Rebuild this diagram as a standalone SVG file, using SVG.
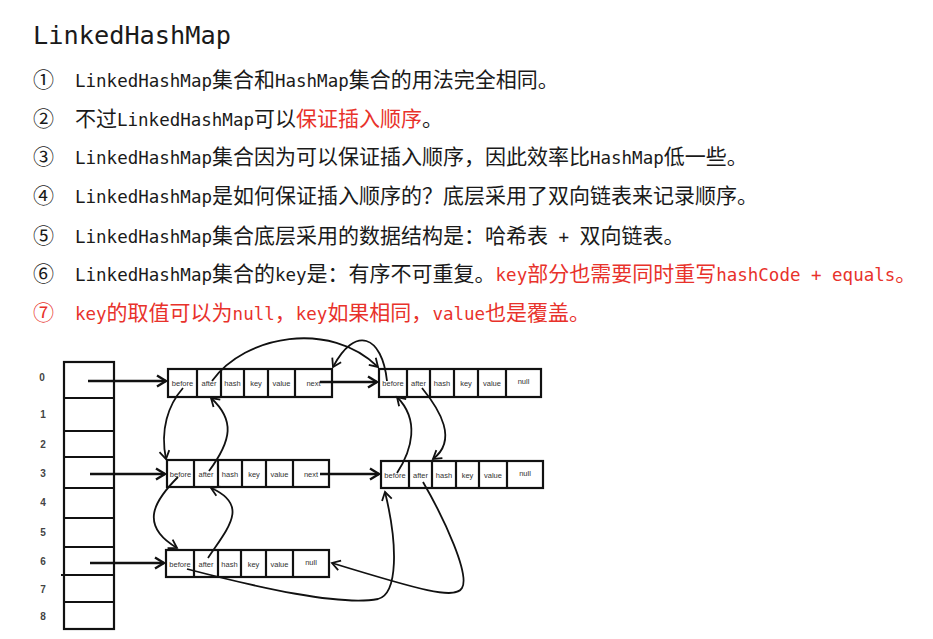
<svg xmlns="http://www.w3.org/2000/svg" width="933" height="639" viewBox="0 0 933 639">
<defs>
<style>
.t{white-space:pre;fill:#1a1a1a}
.cn{font-family:"Noto Sans CJK SC","Noto Sans CJK JP",sans-serif;font-size:21px}
.en{font-family:"DejaVu Sans Mono","Liberation Mono",monospace;font-size:17.5px}
.red{fill:#e8322b}
.box{fill:none;stroke:#111;stroke-width:2.2}
.cell{font-family:"Liberation Sans",Arial,sans-serif;font-size:7.5px;fill:#333;text-anchor:middle}
.idx{font-family:"Liberation Sans",Arial,sans-serif;font-size:10px;font-weight:bold;fill:#444;text-anchor:middle}
.thick{fill:none;stroke:#111;stroke-width:2.6}
.curve{fill:none;stroke:#111;stroke-width:1.8}
</style>
<marker id="ah" markerUnits="userSpaceOnUse" markerWidth="14" markerHeight="14" refX="11" refY="7" orient="auto">
<path d="M2,1.5 L11,7 L2,12.5" fill="none" stroke="#111" stroke-width="2.4"/>
</marker>
<marker id="ah2" markerUnits="userSpaceOnUse" markerWidth="14" markerHeight="14" refX="10" refY="7" orient="auto">
<path d="M2,2 L10,7 L2,12" fill="none" stroke="#111" stroke-width="1.8"/>
</marker>
</defs>
<rect width="933" height="639" fill="#ffffff"/>

<g id="title">
<text class="t" x="33" y="44" font-family="DejaVu Sans Mono, Liberation Mono, monospace" font-size="25.3">LinkedHashMap</text>
</g>

<g id="points">
<text class="t cn" x="33" y="87">①</text>
<text class="t" x="75" y="87"><tspan class="en">LinkedHashMap</tspan><tspan class="cn">集合和</tspan><tspan class="en">HashMap</tspan><tspan class="cn">集合的用法完全相同。</tspan></text>

<text class="t cn" x="33" y="125.5">②</text>
<text class="t" x="75" y="125.5"><tspan class="cn">不过</tspan><tspan class="en">LinkedHashMap</tspan><tspan class="cn">可以</tspan><tspan class="cn red">保证插入顺序</tspan><tspan class="cn">。</tspan></text>

<text class="t cn" x="33" y="164">③</text>
<text class="t" x="75" y="164"><tspan class="en">LinkedHashMap</tspan><tspan class="cn">集合因为可以保证插入顺序，因此效率比</tspan><tspan class="en">HashMap</tspan><tspan class="cn">低一些。</tspan></text>

<text class="t cn" x="33" y="203">④</text>
<text class="t" x="75" y="203"><tspan class="en">LinkedHashMap</tspan><tspan class="cn">是如何保证插入顺序的？底层采用了双向链表来记录顺序。</tspan></text>

<text class="t cn" x="33" y="242.5">⑤</text>
<text class="t" x="75" y="242.5"><tspan class="en">LinkedHashMap</tspan><tspan class="cn">集合底层采用的数据结构是：哈希表</tspan><tspan class="en"> + </tspan><tspan class="cn">双向链表。</tspan></text>

<text class="t cn" x="33" y="281">⑥</text>
<text class="t" x="75" y="281"><tspan class="en">LinkedHashMap</tspan><tspan class="cn">集合的</tspan><tspan class="en">key</tspan><tspan class="cn">是：有序不可重复。</tspan><tspan class="en red">key</tspan><tspan class="cn red">部分也需要同时重写</tspan><tspan class="en red">hashCode + equals</tspan><tspan class="cn red">。</tspan></text>

<text class="t cn red" x="33" y="320">⑦</text>
<text class="t red" x="75" y="320"><tspan class="en red">key</tspan><tspan class="cn red">的取值可以为</tspan><tspan class="en red">null</tspan><tspan class="cn red">，</tspan><tspan class="en red">key</tspan><tspan class="cn red">如果相同，</tspan><tspan class="en red">value</tspan><tspan class="cn red">也是覆盖。</tspan></text>
</g>

<g id="array">
<rect class="box" x="64" y="362" width="50" height="267" stroke-width="2.6"/>
<path class="box" stroke-width="2.6" d="M64,398H114M64,431H114M64,457H114M64,488H114M64,518H114M64,547H114M61,575H114M64,602H114"/>
<text class="idx" x="42" y="381">0</text>
<text class="idx" x="43" y="418">1</text>
<text class="idx" x="43" y="448">2</text>
<text class="idx" x="43" y="477">3</text>
<text class="idx" x="43" y="506">4</text>
<text class="idx" x="43" y="536">5</text>
<text class="idx" x="43" y="565">6</text>
<text class="idx" x="43" y="593">7</text>
<text class="idx" x="43" y="620">8</text>
</g>

<g id="node-0-first">
<rect class="box" x="168" y="369" width="164" height="28"/>
<path class="box" d="M197,369V397M221,369V397M244,369V397M268,369V397M295,369V397"/>
<text class="cell" x="182.5" y="386">before</text>
<text class="cell" x="209" y="386">after</text>
<text class="cell" x="232.5" y="386">hash</text>
<text class="cell" x="256" y="386">key</text>
<text class="cell" x="281.5" y="386">value</text>
<text class="cell" x="313.5" y="386">next</text>
</g>

<g id="node-0-second">
<rect class="box" x="379" y="369" width="162" height="28"/>
<path class="box" d="M407,369V397M430,369V397M454,369V397M478,369V397M506,369V397"/>
<text class="cell" x="393" y="386">before</text>
<text class="cell" x="418.5" y="386">after</text>
<text class="cell" x="442" y="386">hash</text>
<text class="cell" x="466" y="386">key</text>
<text class="cell" x="492" y="386">value</text>
<text class="cell" x="523.5" y="384">null</text>
</g>

<g id="node-3-first">
<rect class="box" x="167" y="460" width="162" height="27"/>
<path class="box" d="M194,460V487M218,460V487M242,460V487M266,460V487M293,460V487"/>
<text class="cell" x="180.5" y="477">before</text>
<text class="cell" x="206" y="477">after</text>
<text class="cell" x="230" y="477">hash</text>
<text class="cell" x="254" y="477">key</text>
<text class="cell" x="279.5" y="477">value</text>
<text class="cell" x="311" y="477">next</text>
</g>

<g id="node-3-second">
<rect class="box" x="381" y="461" width="162" height="27"/>
<path class="box" d="M409,461V488M432,461V488M456,461V488M479,461V488M507,461V488"/>
<text class="cell" x="395" y="478">before</text>
<text class="cell" x="420.5" y="478">after</text>
<text class="cell" x="444" y="478">hash</text>
<text class="cell" x="467.5" y="478">key</text>
<text class="cell" x="493" y="478">value</text>
<text class="cell" x="525" y="476">null</text>
</g>

<g id="node-6">
<rect class="box" x="166" y="550" width="163" height="27"/>
<path class="box" d="M194,550V577M218,550V577M241,550V577M266,550V577M293,550V577"/>
<text class="cell" x="180" y="567">before</text>
<text class="cell" x="206" y="567">after</text>
<text class="cell" x="229.5" y="567">hash</text>
<text class="cell" x="253.5" y="567">key</text>
<text class="cell" x="279.5" y="567">value</text>
<text class="cell" x="311" y="565">null</text>
</g>

<g id="connectors">
<path class="thick" d="M88,381H166" marker-end="url(#ah)"/>
<path class="thick" d="M90,474H165" marker-end="url(#ah)"/>
<path class="thick" d="M90,563H164" marker-end="url(#ah)"/>
<path class="thick" d="M320,382H377" marker-end="url(#ah)"/>
<path class="thick" d="M320,474H379" marker-end="url(#ah)"/>

<path class="curve" d="M212,381 C245,335 330,320 378,367" marker-end="url(#ah2)"/>
<path class="curve" d="M387,381 C382,335 355,325 333,367" marker-end="url(#ah2)"/>
<path class="curve" d="M183,388 C168,405 160,430 166,459" marker-end="url(#ah2)"/>
<path class="curve" d="M209,471 C232,440 235,420 211,398" marker-end="url(#ah2)"/>
<path class="curve" d="M178,477 C155,500 138,525 177,548" marker-end="url(#ah2)"/>
<path class="curve" d="M208,558 C228,528 250,505 211,488" marker-end="url(#ah2)"/>
<path class="curve" d="M422,388 C440,410 458,440 433,459" marker-end="url(#ah2)"/>
<path class="curve" d="M397,473 C412,450 420,420 397,397" marker-end="url(#ah2)"/>
<path class="curve" d="M423,482 C445,520 470,575 462,588 C455,600 420,590 332,563" marker-end="url(#ah2)"/>
<path class="curve" d="M187,569 C260,588 340,606 378,599 C398,594 398,545 385,492" marker-end="url(#ah2)"/>
</g>
</svg>
